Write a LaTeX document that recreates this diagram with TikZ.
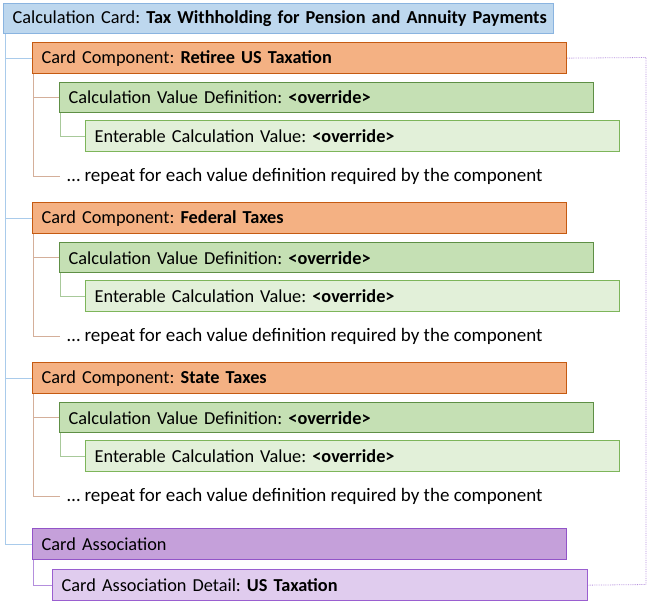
\documentclass[tikz,border=0pt]{standalone}
\usepackage{fontspec}
\setmainfont{Carlito}
\frenchspacing
\hbadness=10000 \hfuzz=50pt
\definecolor{cardfill}{HTML}{BDD7EE}
\definecolor{carddraw}{HTML}{8AB4E0}
\definecolor{cardline}{HTML}{A9CBEB}
\definecolor{compfill}{HTML}{F4B183}
\definecolor{compdraw}{HTML}{C55A11}
\definecolor{compline}{HTML}{D4AF9A}
\definecolor{cvdfill}{HTML}{C5E0B4}
\definecolor{cvddraw}{HTML}{5E8F45}
\definecolor{ecvfill}{HTML}{E2F0D9}
\definecolor{ecvdraw}{HTML}{7DB55A}
\definecolor{cvdline}{HTML}{A8C99A}
\definecolor{assocfill}{HTML}{C5A0DA}
\definecolor{assocdraw}{HTML}{9254C8}
\definecolor{detfill}{HTML}{E0CCEE}
\definecolor{detdraw}{HTML}{9A5FD0}
\definecolor{assocline}{HTML}{B48FDD}
\tikzset{
  box/.style={anchor=north west, inner xsep=8pt, inner ysep=0pt, align=left,
    line width=1.3pt, font=\fontsize{18.3}{21}\selectfont},
  cardbox/.style={box, fill=cardfill, draw=carddraw},
  compbox/.style={box, fill=compfill, draw=compdraw},
  cvdbox/.style={box, fill=cvdfill, draw=cvddraw},
  ecvbox/.style={box, fill=ecvfill, draw=ecvdraw},
  assocbox/.style={box, fill=assocfill, draw=assocdraw},
  detbox/.style={box, fill=detfill, draw=detdraw},
  reptext/.style={anchor=west, inner xsep=7pt, inner ysep=0pt, font=\fontsize{19}{22}\selectfont},
  conn/.style={line width=1pt},
}
\begin{document}
\begin{tikzpicture}[x=1pt,y=-1pt]
\useasboundingbox (0,0) rectangle (647,607);
\node[cardbox, minimum width=550pt, minimum height=30pt, text width=532pt] (cc) at (3,3)
  {\mbox{Calculation Card: \textbf{Tax Withholding for Pension and Annuity Payments}}};
\foreach \g/\name in {0/Retiree US Taxation,1/Federal Taxes,2/State Taxes}{
  \pgfmathsetmacro{\dy}{160*\g}
  \node[compbox, minimum width=534pt, minimum height=31pt, text width=516pt] (comp\g) at (32,42+\dy)
    {Card Component: \textbf{\name}};
  \node[cvdbox, minimum width=534pt, minimum height=30pt, text width=516pt] (cvd\g) at (59,82+\dy)
    {Calculation Value Definition: \textbf{<override>}};
  \node[ecvbox, minimum width=534pt, minimum height=31pt, text width=516pt] (ecv\g) at (85,120+\dy)
    {Enterable Calculation Value: \textbf{<override>}};
  \node[reptext] (rep\g) at (60,176.5+\dy)
    {\dots\ repeat for each value definition required by the component};
  \draw[conn, draw=cardline] ([xshift=2pt]cc.south west) |- (comp\g.west);
  \draw[conn, draw=compline] ([xshift=1pt]comp\g.south west) |- (cvd\g.west);
  \draw[conn, draw=compline] ([xshift=1pt]comp\g.south west) |- (rep\g.west);
  \draw[conn, draw=cvdline] ([xshift=1pt]cvd\g.south west) |- (ecv\g.west);
}
\node[assocbox, minimum width=534pt, minimum height=31pt, text width=516pt] (assoc) at (32,528)
  {Card Association};
\node[detbox, minimum width=535pt, minimum height=31pt, text width=517pt] (det) at (52,569)
  {Card Association Detail: \textbf{US Taxation}};
\draw[conn, draw=cardline] ([xshift=2pt]cc.south west) |- (assoc.west);
\draw[conn, draw=assocline] ([xshift=1pt]assoc.south west) |- (det.west);
\coordinate (rt) at (646,57.5);
\coordinate (rb) at (646,584.5);
\draw[line width=0.8pt, draw=assocline, densely dotted] (comp0.east) -- (rt) -- (rb) -- (det.east);
\end{tikzpicture}
\end{document}
